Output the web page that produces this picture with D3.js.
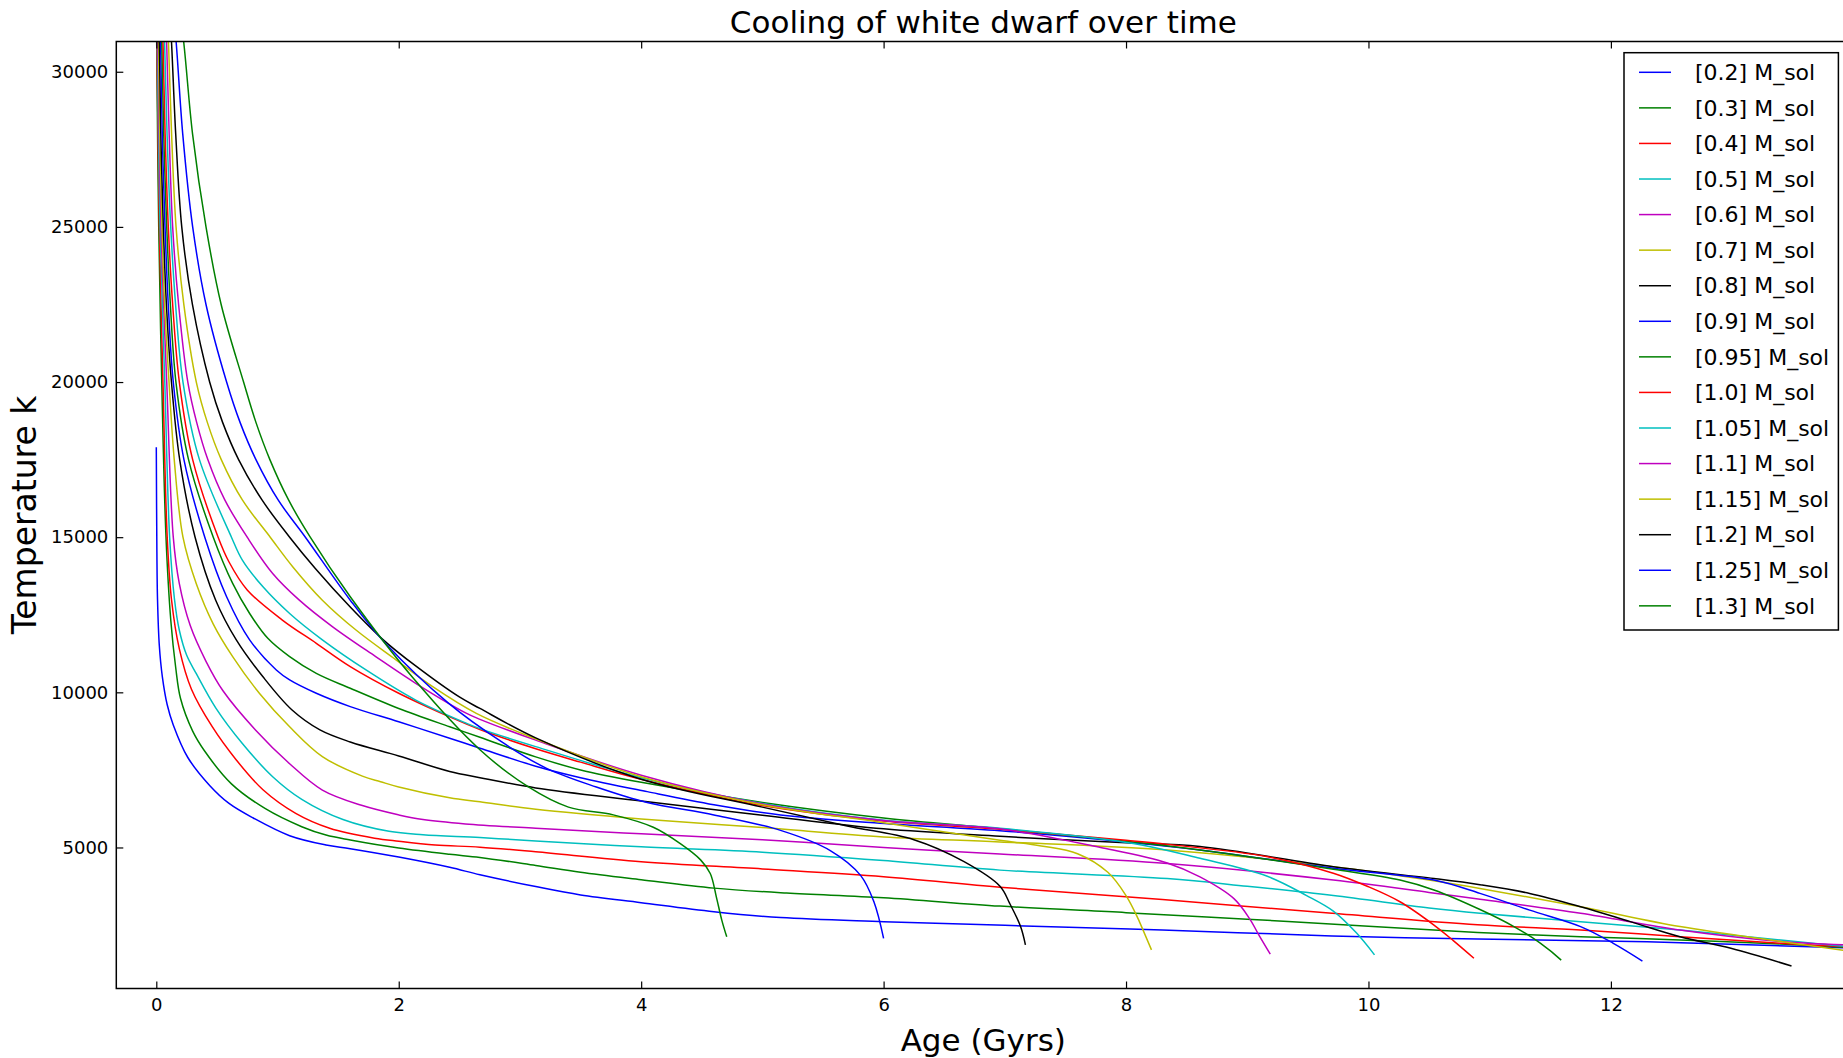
<!DOCTYPE html>
<html>
<head>
<meta charset="utf-8">
<title>Cooling of white dwarf over time</title>
<script src="https://d3js.org/d3.v7.min.js"></script>
<style>
  body { margin: 0; background: #fff; }
  svg { display: block; font-family: "DejaVu Sans", sans-serif; }
</style>
</head>
<body>
<div id="chart"></div>
<script>
// one cooling track per white dwarf mass (solar masses)
const masses = ["0.2", "0.3", "0.4", "0.5", "0.6", "0.7", "0.8", "0.9", "0.95", "1.0", "1.05", "1.1", "1.15", "1.2", "1.25", "1.3"];

// [age (Gyr), temperature (K)]
const m02 = [[0,17900],[0.004,15000],[0.01,13000],[0.025,11500],[0.05,10500],[0.09,9600],[0.14,8950],[0.26,7900],[0.44,7000],[0.6,6420],[0.8,5950],[1.1,5380],[1.4,5080],[1.6,4960],[2.0,4690],[2.42,4360],[2.67,4120],[3.13,3740],[3.5,3470],[4.0,3220],[4.6,2930],[5.15,2740],[6.0,2610],[7.0,2490],[8.3,2340],[9.7,2150],[10.9,2050],[12.3,1960],[13.95,1760]];
const m03 = [[0,34000],[0.003,31000],[0.02,25000],[0.045,20000],[0.08,15000],[0.12,12300],[0.16,10800],[0.2,9800],[0.3,8750],[0.4,8100],[0.62,7050],[0.9,6250],[1.2,5670],[1.4,5400],[1.6,5240],[2.0,4980],[2.42,4780],[2.67,4680],[3.13,4420],[3.5,4200],[4.0,3960],[4.6,3690],[5.2,3530],[6.0,3380],[6.96,3110],[8.0,2900],[9.0,2690],[10.0,2460],[10.9,2260],[11.75,2125],[12.57,2020],[13.4,1890],[13.95,1780]];
const m04 = [[0,34000],[0.005,31000],[0.025,25000],[0.055,20000],[0.09,15000],[0.125,13000],[0.19,11400],[0.29,10100],[0.46,8900],[0.66,7820],[0.88,6860],[1.15,6100],[1.43,5620],[1.8,5300],[2.0,5200],[2.3,5080],[2.67,5010],[3.13,4860],[4.0,4540],[5.0,4310],[6.0,4060],[6.96,3720],[8.3,3320],[9.7,2880],[10.9,2510],[11.75,2340],[12.57,2125],[13.4,1910],[13.95,1800]];
const m05 = [[0,34000],[0.008,31000],[0.031,25000],[0.07,20000],[0.11,15000],[0.15,13000],[0.19,12000],[0.25,11200],[0.33,10600],[0.49,9500],[0.71,8350],[0.96,7280],[1.2,6550],[1.54,5900],[1.92,5520],[2.2,5410],[2.67,5320],[3.13,5210],[4.0,5020],[5.0,4850],[6.0,4580],[6.96,4270],[8.34,4000],[9.0,3750],[9.71,3450],[10.5,3050],[10.92,2880],[11.75,2610],[12.57,2340],[13.4,2017],[13.95,1800]];
const m06 = [[0,34000],[0.012,31000],[0.039,25000],[0.086,20000],[0.14,15000],[0.19,13500],[0.28,12150],[0.41,11000],[0.55,10050],[0.82,8780],[1.1,7700],[1.37,6850],[1.7,6350],[2.0,6050],[2.2,5900],[2.55,5760],[3.13,5620],[4.0,5440],[5.0,5250],[6.0,5000],[6.96,4790],[8.34,4480],[9.71,3950],[10.5,3550],[10.92,3330],[11.75,2880],[12.57,2340],[13.4,1970],[13.95,1860]];
const m07 = [[0.004,34000],[0.018,31000],[0.0284,28000],[0.047,25000],[0.0687,22500],[0.105,20000],[0.148,17500],[0.22,15000],[0.33,13500],[0.47,12200],[0.63,11150],[0.85,9970],[1.1,8890],[1.37,7930],[1.7,7300],[1.85,7120],[2.0,6950],[2.42,6600],[2.67,6470],[3.13,6230],[4.0,5920],[5.0,5640],[6.0,5340],[6.96,5180],[8.34,4920],[9.71,4380],[10.5,3950],[10.92,3680],[11.75,3090],[12.57,2450],[13.4,1970],[13.95,1670]];
const m08 = [[0.009,34000],[0.025,31000],[0.0372,28000],[0.058,25000],[0.0834,22500],[0.125,20000],[0.193,17500],[0.32,15000],[0.49,12970],[0.66,11690],[0.88,10500],[1.12,9430],[1.35,8790],[1.6,8400],[2.0,7950],[2.42,7450],[2.67,7250],[3.13,6920],[4.0,6500],[5.0,6040],[6.0,5600],[6.96,5360],[8.0,5150],[8.61,5030],[9.71,4380],[10.54,4000],[10.92,3800],[11.33,3520],[11.75,3090],[12.16,2610],[12.57,2125],[12.99,1750],[13.49,1180]];
const m09 = [[0.017,34000],[0.035,31000],[0.0492,28000],[0.072,25000],[0.0986,22500],[0.14,20000],[0.228,17500],[0.40,15000],[0.58,13080],[0.77,11690],[0.99,10720],[1.1,10400],[1.32,9970],[1.6,9540],[2.0,9050],[2.42,8520],[2.67,8200],[3.13,7620],[3.5,7250],[4.05,6800],[4.6,6380],[5.15,6050],[5.97,5780],[6.96,5540],[8.0,5180],[8.61,4920],[9.71,4330],[10.54,3950],[10.92,3520],[11.33,2980],[11.75,2450],[12.02,1910],[12.26,1340]];
const m095 = [[0.025,34000],[0.045,31000],[0.0612,28000],[0.086,25000],[0.116,22500],[0.162,20000],[0.266,17500],[0.47,15000],[0.63,13510],[0.77,12540],[0.92,11740],[1.1,11150],[1.32,10610],[1.6,10130],[2.0,9480],[2.42,8890],[2.67,8550],[3.13,7920],[3.5,7500],[4.0,7100],[5.0,6450],[6.0,5950],[6.96,5600],[8.0,5200],[8.61,4920],[9.71,4300],[10.26,3950],[10.54,3630],[10.92,3000],[11.2,2450],[11.42,1910],[11.59,1370]];
const m10 = [[0.033,34000],[0.055,31000],[0.0727,28000],[0.099,25000],[0.135,22500],[0.19,20000],[0.30,17500],[0.51,15000],[0.6,14200],[0.75,13300],[1.04,12330],[1.32,11580],[1.6,10830],[2.0,9970],[2.42,9210],[2.67,8800],[3.13,8180],[3.5,7750],[4.0,7200],[5.0,6350],[6.0,5850],[6.96,5590],[8.0,5230],[8.34,5100],[9.17,4700],[9.71,4170],[9.99,3750],[10.26,3250],[10.54,2500],[10.7,2000],[10.87,1430]];
const m105 = [[0.043,34000],[0.068,31000],[0.0886,28000],[0.119,25000],[0.159,22500],[0.22,20000],[0.356,17500],[0.62,15000],[0.71,14260],[0.88,13400],[1.1,12540],[1.37,11690],[1.73,10720],[2.14,9750],[2.56,9000],[2.67,8830],[3.13,8250],[4.0,7250],[5.0,6420],[6.0,5880],[6.96,5620],[8.06,5130],[8.61,4650],[9.16,4080],[9.49,3450],[9.71,2950],[9.9,2250],[10.05,1540]];
const m11 = [[0.06,34000],[0.085,31000],[0.106,28000],[0.135,25000],[0.184,22500],[0.26,20000],[0.333,18700],[0.425,17500],[0.565,16200],[0.75,15000],[0.96,13830],[1.18,12970],[1.455,12110],[1.81,11150],[2.14,10290],[2.56,9320],[2.67,9130],[3.13,8460],[4.0,7330],[5.0,6400],[6.0,5870],[6.96,5600],[7.79,5000],[8.34,4500],[8.61,4050],[8.89,3350],[9.02,2700],[9.1,2150],[9.19,1560]];
const m115 = [[0.069,34000],[0.10,31000],[0.126,28000],[0.163,25000],[0.227,22500],[0.33,20000],[0.421,18700],[0.536,17500],[0.71,16200],[0.94,15000],[1.125,14050],[1.37,12970],[1.65,12000],[1.98,11040],[2.28,10180],[2.64,9320],[3.13,8500],[4.0,7280],[5.0,6380],[6.0,5800],[6.96,5230],[7.3,5050],[7.6,4800],[7.85,4200],[8.0,3450],[8.1,2700],[8.21,1700]];
const m12 = [[0.083,34000],[0.125,31000],[0.16,28000],[0.21,25000],[0.298,22500],[0.44,20000],[0.547,18700],[0.679,17500],[0.872,16200],[1.1,15000],[1.31,14000],[1.6,12750],[1.87,11700],[2.14,10850],[2.5,9850],[2.67,9480],[3.13,8530],[4.0,7200],[5.0,6300],[5.69,5700],[6.25,5250],[6.66,4550],[6.96,3750],[7.04,3200],[7.13,2450],[7.17,1860]];
const m125 = [[0.095,34000],[0.163,31000],[0.218,28000],[0.30,25000],[0.41,22500],[0.58,20000],[0.691,18700],[0.822,17500],[1.005,16200],[1.23,15000],[1.6,12970],[1.89,11580],[2.41,9650],[2.85,8400],[3.22,7550],[3.63,6950],[4.05,6450],[4.6,6050],[5.15,5550],[5.56,4900],[5.81,4100],[5.92,3250],[6.0,2070]];
const m13 = [[0.13,34000],[0.225,31000],[0.299,28000],[0.41,25000],[0.535,22500],[0.72,20000],[0.822,18700],[0.937,17500],[1.091,16200],[1.27,15000],[1.6,13080],[2.11,10500],[2.67,8150],[3.07,6950],[3.4,6300],[3.77,6050],[4.1,5650],[4.32,5130],[4.49,4600],[4.57,4160],[4.62,3410],[4.665,2660],[4.706,2120]];

const tracks = [m02, m03, m04, m05, m06, m07, m08, m09, m095, m10, m105, m11, m115, m12, m125, m13];

const xTicks = [0, 2, 4, 6, 8, 10, 12];
const yTicks = [5000, 10000, 15000, 20000, 25000, 30000];

// matplotlib classic colour cycle
const palette = ["#0000ff", "#008000", "#ff0000", "#00bfbf", "#bf00bf", "#bfbf00", "#000000"];

const W = 1843, H = 1058;
const plotLeft = 116.3, plotRight = 1850.3, plotTop = 41.5, plotBottom = 988.5;

const svg = d3.select("#chart").append("svg").attr("width", W).attr("height", H);
svg.append("rect").attr("width", W).attr("height", H).attr("fill", "#fff");

const x = d3.scaleLinear().domain([-0.33, 13.975]).range([plotLeft, plotRight]);
const y = d3.scaleLinear().domain([455, 30975]).range([plotBottom, plotTop]);

svg.append("clipPath").attr("id", "plot-area")
	.append("rect")
	.attr("x", plotLeft).attr("y", plotTop)
	.attr("width", plotRight - plotLeft).attr("height", plotBottom - plotTop);

// centripetal catmull-rom keeps the near-vertical starts smooth
const line = d3.line()
	.x(d => x(d[0]))
	.y(d => y(d[1]))
	.curve(d3.curveCatmullRom.alpha(0.5));

svg.append("g").attr("clip-path", "url(#plot-area)")
	.selectAll("path")
	.data(tracks)
	.join("path")
	.attr("d", line)
	.attr("fill", "none")
	.attr("stroke", (d, i) => palette[i % palette.length])
	.attr("stroke-width", 1.5)
	.attr("stroke-linejoin", "round");

// axes, ticks pointing inwards on every side
const axisStyle = g => {
	g.select(".domain").remove();
	g.selectAll(".tick line").attr("stroke", "#000").attr("stroke-width", 1.2);
	g.selectAll(".tick text").attr("fill", "#000").attr("font-size", 18)
		.attr("font-family", "DejaVu Sans, sans-serif");
};

svg.append("g").attr("transform", `translate(0,${plotBottom})`)
	.call(d3.axisBottom(x).tickValues(xTicks).tickSizeInner(-7).tickSizeOuter(0).tickPadding(10).tickFormat(d3.format("d")))
	.call(axisStyle);
svg.append("g").attr("transform", `translate(0,${plotTop})`)
	.call(d3.axisTop(x).tickValues(xTicks).tickSizeInner(-7).tickSizeOuter(0).tickFormat(""))
	.call(axisStyle);
svg.append("g").attr("transform", `translate(${plotLeft},0)`)
	.call(d3.axisLeft(y).tickValues(yTicks).tickSizeInner(-7).tickSizeOuter(0).tickPadding(8).tickFormat(d3.format("d")))
	.call(axisStyle);
svg.append("g").attr("transform", `translate(${plotRight},0)`)
	.call(d3.axisRight(y).tickValues(yTicks).tickSizeInner(-7).tickSizeOuter(0).tickFormat(""))
	.call(axisStyle);

// frame
svg.append("rect")
	.attr("x", plotLeft).attr("y", plotTop)
	.attr("width", plotRight - plotLeft).attr("height", plotBottom - plotTop)
	.attr("fill", "none").attr("stroke", "#000").attr("stroke-width", 1.5);

// titles
const midX = (plotLeft + plotRight) / 2;
svg.append("text")
	.attr("x", midX).attr("y", 33)
	.attr("text-anchor", "middle").attr("font-size", 31)
	.text("Cooling of white dwarf over time");
svg.append("text")
	.attr("x", midX).attr("y", 1051)
	.attr("text-anchor", "middle").attr("font-size", 31)
	.text("Age (Gyrs)");
svg.append("text")
	.attr("transform", `translate(36,${(plotTop + plotBottom) / 2}) rotate(-90)`)
	.attr("text-anchor", "middle").attr("font-size", 33)
	.text("Temperature k");

// legend
const legend = svg.append("g");
legend.append("rect")
	.attr("x", 1624).attr("y", 52.7)
	.attr("width", 214.4).attr("height", 577.3)
	.attr("fill", "#fff").attr("stroke", "#000").attr("stroke-width", 1.5);

const rowY = i => 72.3 + i * 35.57;
const rows = legend.selectAll("g.row").data(masses).join("g").attr("class", "row");
rows.append("line")
	.attr("x1", 1639).attr("x2", 1671)
	.attr("y1", (d, i) => rowY(i)).attr("y2", (d, i) => rowY(i))
	.attr("stroke", (d, i) => palette[i % palette.length])
	.attr("stroke-width", 1.5);
rows.append("text")
	.attr("x", 1695).attr("y", (d, i) => rowY(i))
	.attr("dy", "0.35em").attr("font-size", 22)
	.text(d => `[${d}] M_sol`);
</script>
</body>
</html>
